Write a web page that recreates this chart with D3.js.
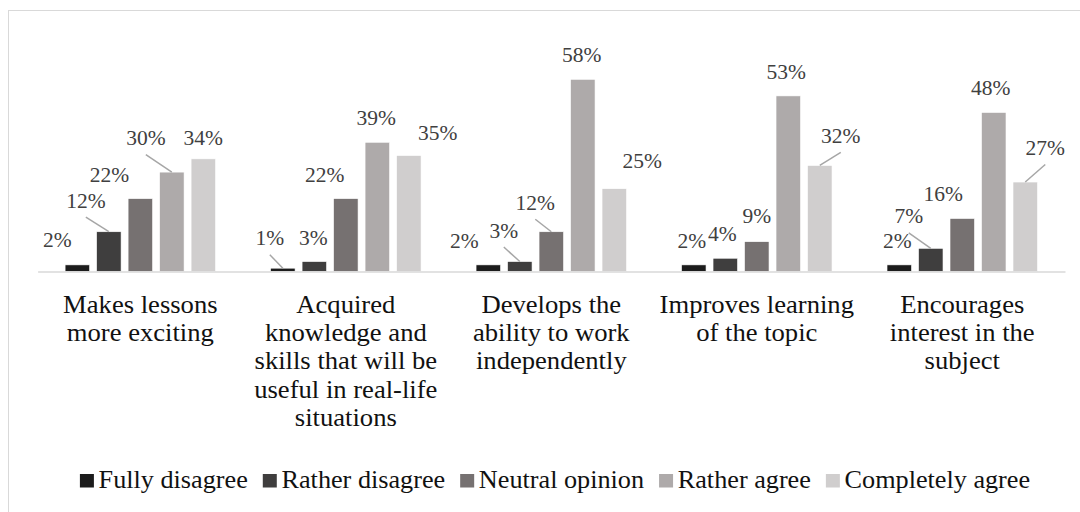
<!DOCTYPE html>
<html><head><meta charset="utf-8">
<script src="https://cdn.jsdelivr.net/npm/d3@7"></script>
</head>
<body style="margin:0">
<svg id="chart" width="1080" height="512"></svg>
<script>
// ---- data ----
const categories = [
  "Makes lessons\nmore exciting",
  "Acquired\nknowledge and\nskills that will be\nuseful in real-life\nsituations",
  "Develops the\nability to work\nindependently",
  "Improves learning\nof the topic",
  "Encourages\ninterest in the\nsubject"
];
const seriesNames = ["Fully disagree", "Rather disagree", "Neutral opinion", "Rather agree", "Completely agree"];
const fullyDisagree   = [2, 1, 2, 2, 2];
const ratherDisagree  = [12, 3, 3, 4, 7];
const neutralOpinion  = [22, 22, 12, 9, 16];
const ratherAgree     = [30, 39, 58, 53, 48];
const completelyAgree = [34, 35, 25, 32, 27];
const seriesValues = [fullyDisagree, ratherDisagree, neutralOpinion, ratherAgree, completelyAgree];

// ---- layout / style (not data) ----
const FONT = "Liberation Serif";
const colors = ["#1c1c1c", "#3f3e3e", "#767171", "#aeaaaa", "#d0cece"];
// label offsets from default "outside end" position: [dx, dy, leaderLine]
const labelOffsets = [
  [[-20,-1,0],[-13,-6,1],[-24,0,0],[-2,0,0],[-2,0,0]],
  [[-23,-7,1],[-1,0,0],[-16,-7,1],[-3,0,0],[-22,-8,1]],
  [[-31,0,0],[-21,0,0],[-16,-5,1],[0,-2,0],[-19,0,0]],
  [[-26,-10,1],[-1,0,0],[-1,0,0],[-2,0,0],[-3,0,0]],
  [[0,3,0],[29,1.5,0],[28,-4,0],[21,-5.5,1],[20,-10,1]]
];

const svg = d3.select("#chart");

// frame
svg.append("rect").attr("x", 8.5).attr("y", 10.5).attr("width", 1080).attr("height", 520)
  .attr("fill", "none").attr("stroke", "#d9d9d9").attr("stroke-width", 1);

const x0 = d3.scaleBand().domain(categories).range([37.6, 1065]).paddingInner(0).paddingOuter(0);
const x1 = d3.scaleBand().domain(seriesNames).range([0, x0.bandwidth()]).paddingInner(0.2222).paddingOuter(0.873);
const y = d3.scaleLinear().domain([0, 60]).range([271.5, 72.7]);

// bars
seriesNames.forEach((s, si) => {
  svg.append("g").selectAll("rect").data(categories).join("rect")
    .attr("x", c => x0(c) + x1(s))
    .attr("y", (c, ci) => y(seriesValues[si][ci]))
    .attr("width", x1.bandwidth())
    .attr("height", (c, ci) => y(0) - y(seriesValues[si][ci]))
    .attr("fill", colors[si])
    .attr("stroke", "#ffffff").attr("stroke-width", 0.6);
});

// axis
const axis = svg.append("g").attr("transform", `translate(0,${y(0)})`)
  .call(d3.axisBottom(x0).tickSize(0).tickSizeOuter(0).tickFormat(""));
axis.select(".domain").attr("stroke", "#d9d9d9").attr("stroke-width", 1.5);
axis.attr("font-family", null);

// category labels
const catSX = 1.065;
categories.forEach(c => {
  const g = svg.append("g").attr("transform", `translate(${x0(c) + x0.bandwidth() / 2},312.7) scale(${catSX},1)`);
  const t = g.append("text").attr("x", 0).attr("y", 0)
    .attr("text-anchor", "middle").attr("font-size", 25).style("font-family", `"${FONT}"`).attr("fill", "#111");
  c.split("\n").forEach((line, i) => {
    t.append("tspan").attr("x", 0).attr("dy", i === 0 ? 0 : 28.3).text(line);
  });
});

// data labels
const labG = svg.append("g");
seriesNames.forEach((s, si) => {
  categories.forEach((c, ci) => {
    const v = seriesValues[si][ci];
    const bx = x0(c) + x1(s) + x1.bandwidth() / 2;
    const by = y(v);
    const off = labelOffsets[si][ci];
    const lx = bx + off[0], ly = by - 17 + off[1];
    if (off[2]) {
      labG.append("line").attr("x1", lx).attr("y1", ly + 9.5).attr("x2", bx).attr("y2", by)
        .attr("stroke", "#a6a6a6").attr("stroke-width", 1.5);
    }
    labG.append("text").attr("x", lx).attr("y", ly).attr("text-anchor", "middle")
      .attr("font-size", 21.5).style("font-family", `"${FONT}"`).attr("fill", "#404040").text(v + "%");
  });
});

// legend
const legSX = 1.07;
const leg = svg.append("g");
const items = seriesNames.map((s, i) => {
  const g = leg.append("g");
  g.append("rect").attr("x", 0).attr("y", -13.5).attr("width", 14).attr("height", 13.5).attr("fill", colors[i]);
  const t = g.append("text").attr("x", 0).attr("y", 0).attr("font-size", 24.5).style("font-family", `"${FONT}"`)
    .attr("fill", "#111").attr("transform", `translate(18.7,0) scale(${legSX},1)`).text(s);
  return {g, w: 18.7 + t.node().getComputedTextLength() * legSX};
});
const gap = 15;
const total = d3.sum(items, d => d.w) + gap * (items.length - 1);
let cx = 555 - total / 2;
items.forEach(it => { it.g.attr("transform", `translate(${cx},487.5)`); cx += it.w + gap; });
</script>
</body></html>
